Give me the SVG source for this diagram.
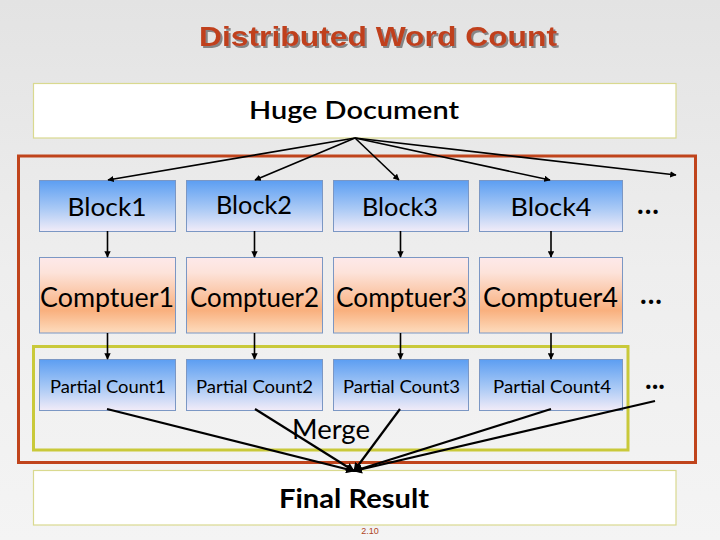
<svg xmlns="http://www.w3.org/2000/svg" width="720" height="540" viewBox="0 0 720 540">
<defs>
<linearGradient id="bg" x1="0" y1="0" x2="0" y2="1"><stop offset="0" stop-color="#e3e3e3"/><stop offset="0.5" stop-color="#eeeeee"/><stop offset="1" stop-color="#f4f4f4"/></linearGradient>
<linearGradient id="blue" x1="0" y1="0" x2="0" y2="1"><stop offset="0" stop-color="#5c9ef2"/><stop offset="0.55" stop-color="#a9c9f5"/><stop offset="1" stop-color="#f2ecf8"/></linearGradient>
<linearGradient id="orange" x1="0" y1="0" x2="0" y2="1"><stop offset="0" stop-color="#fde9ea"/><stop offset="0.2" stop-color="#fde3da"/><stop offset="0.7" stop-color="#f9b07e"/><stop offset="1" stop-color="#fddcbe"/></linearGradient>
<filter id="shadow" x="-5%" y="-20%" width="110%" height="140%"><feDropShadow dx="2" dy="2" stdDeviation="0.6" flood-color="#7a7a7a" flood-opacity="0.9"/></filter>
<marker id="ah" viewBox="0 0 10 10" refX="9" refY="5" markerWidth="4" markerHeight="4" orient="auto"><path d="M0,0 L10,5 L0,10 z" fill="#000"/></marker>
</defs>
<style>
.t{font-family:Lato,"Open Sans","Liberation Sans",sans-serif;fill:#000;text-anchor:middle}
.dots{font-family:Lato,"Open Sans","Liberation Sans",sans-serif;fill:#000;text-anchor:middle;font-size:28px;font-weight:bold}
.blk{fill:url(#blue);stroke:#7b97c4;stroke-width:1}
.cmp{fill:url(#orange);stroke:#7b97c4;stroke-width:1}
.doc{fill:#ffffff;stroke:#d9d98f;stroke-width:1.2}
.c line{stroke:#000;stroke-width:1.6;marker-end:url(#ah)}
.m line{stroke:#000;stroke-width:2.2;marker-end:url(#ah)}
</style>
<rect width="720" height="540" fill="url(#bg)"/>

<g id="title">
<text x="378" y="46" font-family="'Liberation Sans',Arial,sans-serif" font-weight="bold" font-size="28" fill="#c0401c" text-anchor="middle" textLength="358" lengthAdjust="spacingAndGlyphs" filter="url(#shadow)">Distributed Word Count</text>
</g>

<g id="outer-frame"><rect x="18.5" y="156" width="677" height="306.5" fill="none" stroke="#c0441c" stroke-width="3"/></g>
<g id="merge-frame"><rect x="33.5" y="346.5" width="594.5" height="103.5" fill="none" stroke="#c9c93a" stroke-width="3"/></g>

<g id="huge-document"><rect class="doc" x="33.5" y="83.5" width="642.5" height="54.5"/><text class="t" x="354" y="119" font-size="24" font-weight="600" textLength="210" lengthAdjust="spacingAndGlyphs">Huge Document</text></g>

<g id="block1"><rect class="blk" x="39.5" y="180.5" width="136" height="51"/><text class="t" x="107" y="216" font-size="25" textLength="79" lengthAdjust="spacingAndGlyphs">Block1</text></g>
<g id="block2"><rect class="blk" x="186.5" y="180.5" width="136" height="51"/><text class="t" x="254" y="214" font-size="25" textLength="76" lengthAdjust="spacingAndGlyphs">Block2</text></g>
<g id="block3"><rect class="blk" x="333.5" y="180.5" width="135" height="51"/><text class="t" x="400" y="216" font-size="25" textLength="76" lengthAdjust="spacingAndGlyphs">Block3</text></g>
<g id="block4"><rect class="blk" x="479.5" y="180.5" width="143" height="51"/><text class="t" x="551" y="216" font-size="25" textLength="81" lengthAdjust="spacingAndGlyphs">Block4</text></g>
<g id="block-more"><text class="dots" x="648" y="214" textLength="22" lengthAdjust="spacing">...</text></g>

<g id="computer1"><rect class="cmp" x="39.5" y="257.5" width="136" height="75.5"/><text class="t" x="107" y="307" font-size="27" textLength="134" lengthAdjust="spacingAndGlyphs">Comptuer1</text></g>
<g id="computer2"><rect class="cmp" x="186.5" y="257.5" width="136" height="75.5"/><text class="t" x="254.5" y="307" font-size="27" textLength="129" lengthAdjust="spacingAndGlyphs">Comptuer2</text></g>
<g id="computer3"><rect class="cmp" x="333.5" y="257.5" width="135" height="75.5"/><text class="t" x="401.5" y="307" font-size="27" textLength="131" lengthAdjust="spacingAndGlyphs">Comptuer3</text></g>
<g id="computer4"><rect class="cmp" x="479.5" y="257.5" width="143" height="75.5"/><text class="t" x="550.5" y="307" font-size="27" textLength="135" lengthAdjust="spacingAndGlyphs">Comptuer4</text></g>
<g id="computer-more"><text class="dots" x="651" y="304" textLength="22" lengthAdjust="spacing">...</text></g>

<g id="partial1"><rect class="blk" x="39.5" y="359.5" width="136" height="51"/><text class="t" x="108" y="393" font-size="18" textLength="116" lengthAdjust="spacingAndGlyphs">Partial Count1</text></g>
<g id="partial2"><rect class="blk" x="186.5" y="359.5" width="136" height="51"/><text class="t" x="254.5" y="393" font-size="18" textLength="117" lengthAdjust="spacingAndGlyphs">Partial Count2</text></g>
<g id="partial3"><rect class="blk" x="333.5" y="359.5" width="135" height="51"/><text class="t" x="401.5" y="393" font-size="18" textLength="117" lengthAdjust="spacingAndGlyphs">Partial Count3</text></g>
<g id="partial4"><rect class="blk" x="479.5" y="359.5" width="143" height="51"/><text class="t" x="552" y="393" font-size="18" textLength="118" lengthAdjust="spacingAndGlyphs">Partial Count4</text></g>
<g id="partial-more"><text class="dots" x="655" y="389" textLength="20" lengthAdjust="spacing">...</text></g>

<g id="merge-label"><text class="t" x="331" y="439" font-size="26" textLength="78" lengthAdjust="spacingAndGlyphs">Merge</text></g>

<g id="final-result"><rect class="doc" x="33.5" y="470.5" width="642.5" height="54.5"/><text class="t" x="354" y="508" font-size="26" font-weight="bold" textLength="150" lengthAdjust="spacingAndGlyphs">Final Result</text></g>

<g id="page-number"><text x="370" y="534" font-family="'Liberation Sans',Arial,sans-serif" font-size="9" fill="#b0441c" text-anchor="middle">2.10</text></g>

<g id="connectors">
<g class="c">
<line x1="355" y1="138" x2="108" y2="180"/>
<line x1="355" y1="138" x2="255" y2="180"/>
<line x1="355" y1="138" x2="399" y2="180"/>
<line x1="355" y1="138" x2="550" y2="180"/>
<line x1="355" y1="138" x2="676" y2="175"/>
<line x1="107.5" y1="231" x2="107.5" y2="257"/>
<line x1="254.5" y1="231" x2="254.5" y2="257"/>
<line x1="400.5" y1="231" x2="400.5" y2="257"/>
<line x1="551" y1="231" x2="551" y2="257"/>
<line x1="107.5" y1="333" x2="107.5" y2="359"/>
<line x1="254.5" y1="333" x2="254.5" y2="359"/>
<line x1="400.5" y1="333" x2="400.5" y2="359"/>
<line x1="551" y1="333" x2="551" y2="359"/>
</g>
<g class="m">
<line x1="107" y1="409" x2="354" y2="471"/>
<line x1="255" y1="409" x2="354" y2="471"/>
<line x1="400" y1="409" x2="354" y2="471"/>
<line x1="551" y1="409" x2="354" y2="471"/>
<line x1="655" y1="401" x2="354" y2="471"/>
</g>
</g>
</svg>
